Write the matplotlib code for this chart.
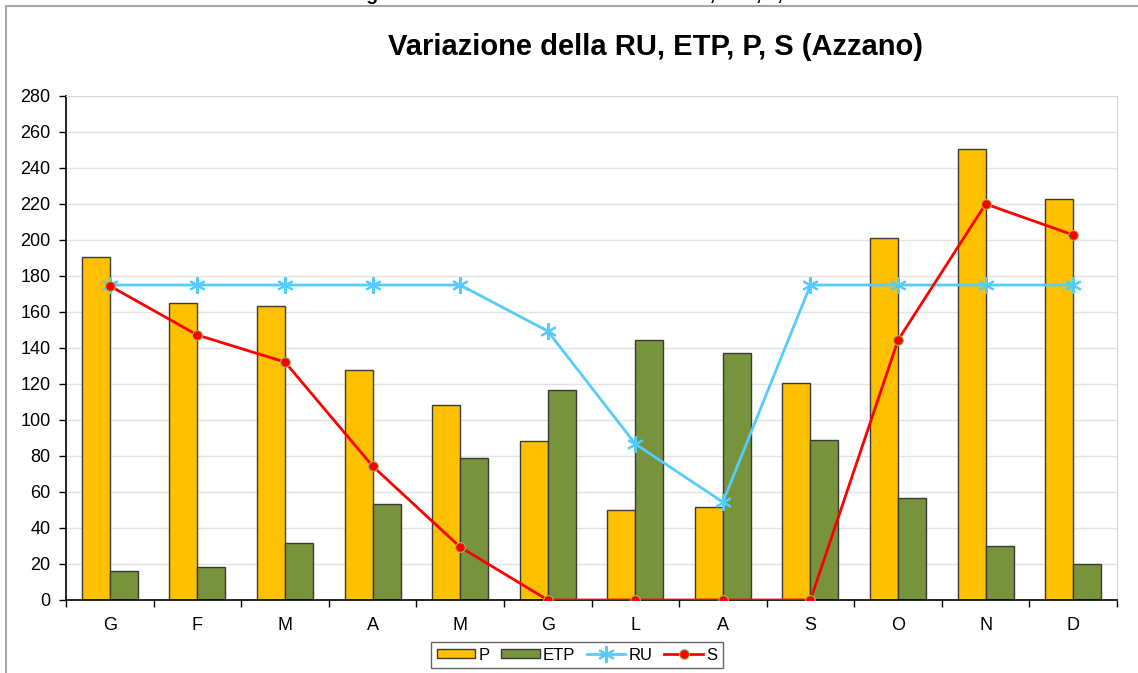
import numpy as np
import matplotlib.pyplot as plt
from matplotlib.patches import Rectangle

plt.rcParams['font.family'] = ['Liberation Sans', 'DejaVu Sans']

# Dati mensili (Azzano)
mesi = ["G", "F", "M", "A", "M", "G", "L", "A", "S", "O", "N", "D"]
P = [190.6, 165.0, 163.5, 127.8, 108.3, 88.3, 50.0, 51.7, 120.5, 201.0, 250.6, 222.8]
ETP = [16.1, 18.3, 31.7, 53.3, 78.9, 116.7, 144.4, 137.2, 88.9, 56.8, 30.2, 20.2]
RU = [175, 175, 175, 175, 175, 149.4, 86.7, 54.4, 175, 175, 175, 175]
S = [174.5, 147.2, 132.2, 74.4, 29.4, 0, 0, 0, 0, 144.4, 220.0, 202.8]

fig = plt.figure(figsize=(11.38, 6.73), dpi=100)
ax = fig.add_axes([66 / 1138, 1 - 600 / 673, (1117 - 66) / 1138, (600 - 96) / 673])

x = np.arange(len(mesi))
w = 0.32
ax.bar(x - w / 2, P, w, color="#FFC000", edgecolor="#3a3a3a", linewidth=1, label="P", zorder=2)
ax.bar(x + w / 2, ETP, w, color="#77933C", edgecolor="#3a3a3a", linewidth=1, label="ETP", zorder=2)
ax.plot(x, RU, color="#55CCFF", linewidth=2, marker=(6, 2, 0), markersize=12, markeredgewidth=1.5,
        label="RU", zorder=3)
ax.plot(x, S, color="#FF0000", linewidth=2, marker="o", markersize=7, markerfacecolor="#FF0000",
        markeredgecolor="#9BBB59", markeredgewidth=0.8, label="S", zorder=4)

ax.set_xlim(-0.5, len(mesi) - 0.5)
ax.set_ylim(0, 280)
ax.set_yticks(np.arange(0, 281, 20))
ax.set_xticks(x)
ax.set_xticklabels(mesi)
ax.set_xticks(np.arange(-0.5, len(mesi), 1), minor=True)
ax.tick_params(axis="x", which="major", length=0, pad=12, labelsize=13)
ax.tick_params(axis="x", which="minor", length=5, direction="out", width=1)
ax.tick_params(axis="y", length=5, direction="out", width=1, labelsize=13, pad=6)
ax.grid(axis="y", color="#e3e3e3", linewidth=1, zorder=0)
ax.set_axisbelow(True)

for side in ["top", "right"]:
    ax.spines[side].set_color("#d9d9d9")
for side in ["left", "bottom"]:
    ax.spines[side].set_color("black")
    ax.spines[side].set_linewidth(1.2)

fig.text(656 / 1138, 1 - 47 / 673, "Variazione della RU, ETP, P, S (Azzano)",
         ha="center", va="center", fontsize=21, fontweight="bold")
fig.text(575 / 1138, 1.006, "Figura 5 - Andamento mensile della RU, ETP, P, S",
         ha="center", va="center", fontsize=14, fontweight="bold")

# cornice esterna
fig.patches.append(Rectangle((6 / 1138, -0.01), 1.2, 1 - 6 / 673 + 0.01, transform=fig.transFigure,
                             fill=False, edgecolor="#a6a6a6", linewidth=1.5))

handles, labels = ax.get_legend_handles_labels()
order = [labels.index(n) for n in ["P", "ETP", "RU", "S"]]
leg = fig.legend([handles[i] for i in order], [labels[i] for i in order],
                 loc="center", bbox_to_anchor=(577 / 1138, 1 - 655 / 673), ncol=4,
                 fontsize=12, frameon=True, fancybox=False, edgecolor="#404040",
                 handlelength=2.3, handleheight=0.5, columnspacing=0.7, handletextpad=0.2,
                 borderpad=0.35, borderaxespad=0)
leg.get_frame().set_linewidth(1)

fig.savefig("out.png", dpi=100)
